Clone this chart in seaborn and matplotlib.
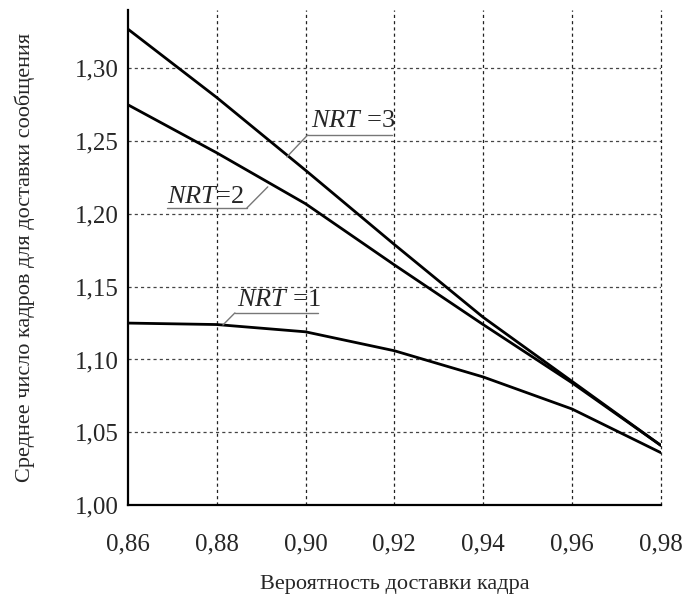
import matplotlib
matplotlib.use("Agg")
import matplotlib.pyplot as plt
import seaborn as sns
import pandas as pd

p = [0.86, 0.88, 0.90, 0.92, 0.94, 0.96, 0.98]
nrt1 = [1.125, 1.124, 1.119, 1.106, 1.088, 1.066, 1.036]
nrt2 = [1.275, 1.242, 1.207, 1.165, 1.124, 1.084, 1.041]
nrt3 = [1.327, 1.280, 1.230, 1.179, 1.129, 1.085, 1.041]
series_names = ["NRT=1", "NRT=2", "NRT=3"]
xticks = [0.86, 0.88, 0.90, 0.92, 0.94, 0.96, 0.98]
yticks = [1.00, 1.05, 1.10, 1.15, 1.20, 1.25, 1.30]
xlabel = "Вероятность доставки кадра"
ylabel = "Среднее число кадров для доставки сообщения"

df = pd.DataFrame({
    "p": p * 3,
    "v": nrt1 + nrt2 + nrt3,
    "s": [series_names[0]] * 7 + [series_names[1]] * 7 + [series_names[2]] * 7,
})

sns.set_theme(style="white")
plt.rcParams["font.family"] = ["Liberation Serif", "DejaVu Serif"]
plt.rcParams["mathtext.fontset"] = "custom"
plt.rcParams["mathtext.rm"] = "Liberation Serif"
plt.rcParams["mathtext.it"] = "Liberation Serif:italic"

fig = plt.figure(figsize=(6.84, 5.98), dpi=100)
ax = fig.add_axes([0.187, 0.1555, 0.779, 0.8275])

sns.lineplot(data=df, x="p", y="v", hue="s", palette=["black"] * 3,
             linewidth=2.0, legend=False, ax=ax)

ax.set_xlim(0.86, 0.98)
ax.set_ylim(1.00, 1.34)
ax.set_xticks(xticks)
ax.set_yticks(yticks)
ax.set_xticklabels([f"{v:.2f}".replace(".", ",") for v in xticks], fontsize=18)
ax.set_yticklabels([f"{v:.2f}".replace(".", ",") for v in yticks], fontsize=18)

for s in ["top", "right"]:
    ax.spines[s].set_visible(False)
for s in ["left", "bottom"]:
    ax.spines[s].set_color("black")
    ax.spines[s].set_linewidth(1.6)

ax.tick_params(axis="both", direction="inout", length=11, width=1.6, color="black")
ax.tick_params(axis="x", pad=15)
ax.tick_params(axis="y", pad=1)

for x in xticks[1:]:
    ax.axvline(x, color="#222222", lw=0.9, ls=(0, (2.5, 2.5)), zorder=0, clip_on=False)
for y in yticks[1:]:
    ax.axhline(y, color="#444444", lw=0.9, ls=(0, (2.5, 2.5)), zorder=0)

ax.set_xlabel(xlabel, fontsize=16, labelpad=14)
ax.set_ylabel(ylabel, fontsize=16, labelpad=29)


def label(txt, tx, ty, ux0, ux1, uy, sx, px, py):
    ax.text(tx, ty, txt, fontsize=19, ha="left", va="baseline")
    ax.plot([ux0, ux1], [uy, uy], color="#777777", lw=1.0)
    ax.plot([sx, px], [uy, py], color="#777777", lw=1.0)


label(r"$\it{NRT}$ =3", 0.9012, 1.2595, 0.9005, 0.9195, 1.2543, 0.9005, 0.8958, 1.2392)
label(r"$\it{NRT}$=2", 0.8688, 1.2072, 0.8688, 0.8868, 1.2041, 0.8868, 0.8915, 1.2186)
label(r"$\it{NRT}$ =1", 0.8846, 1.1365, 0.8841, 0.9028, 1.1320, 0.8841, 0.8814, 1.1237)

fig.savefig("out.png", dpi=100)
